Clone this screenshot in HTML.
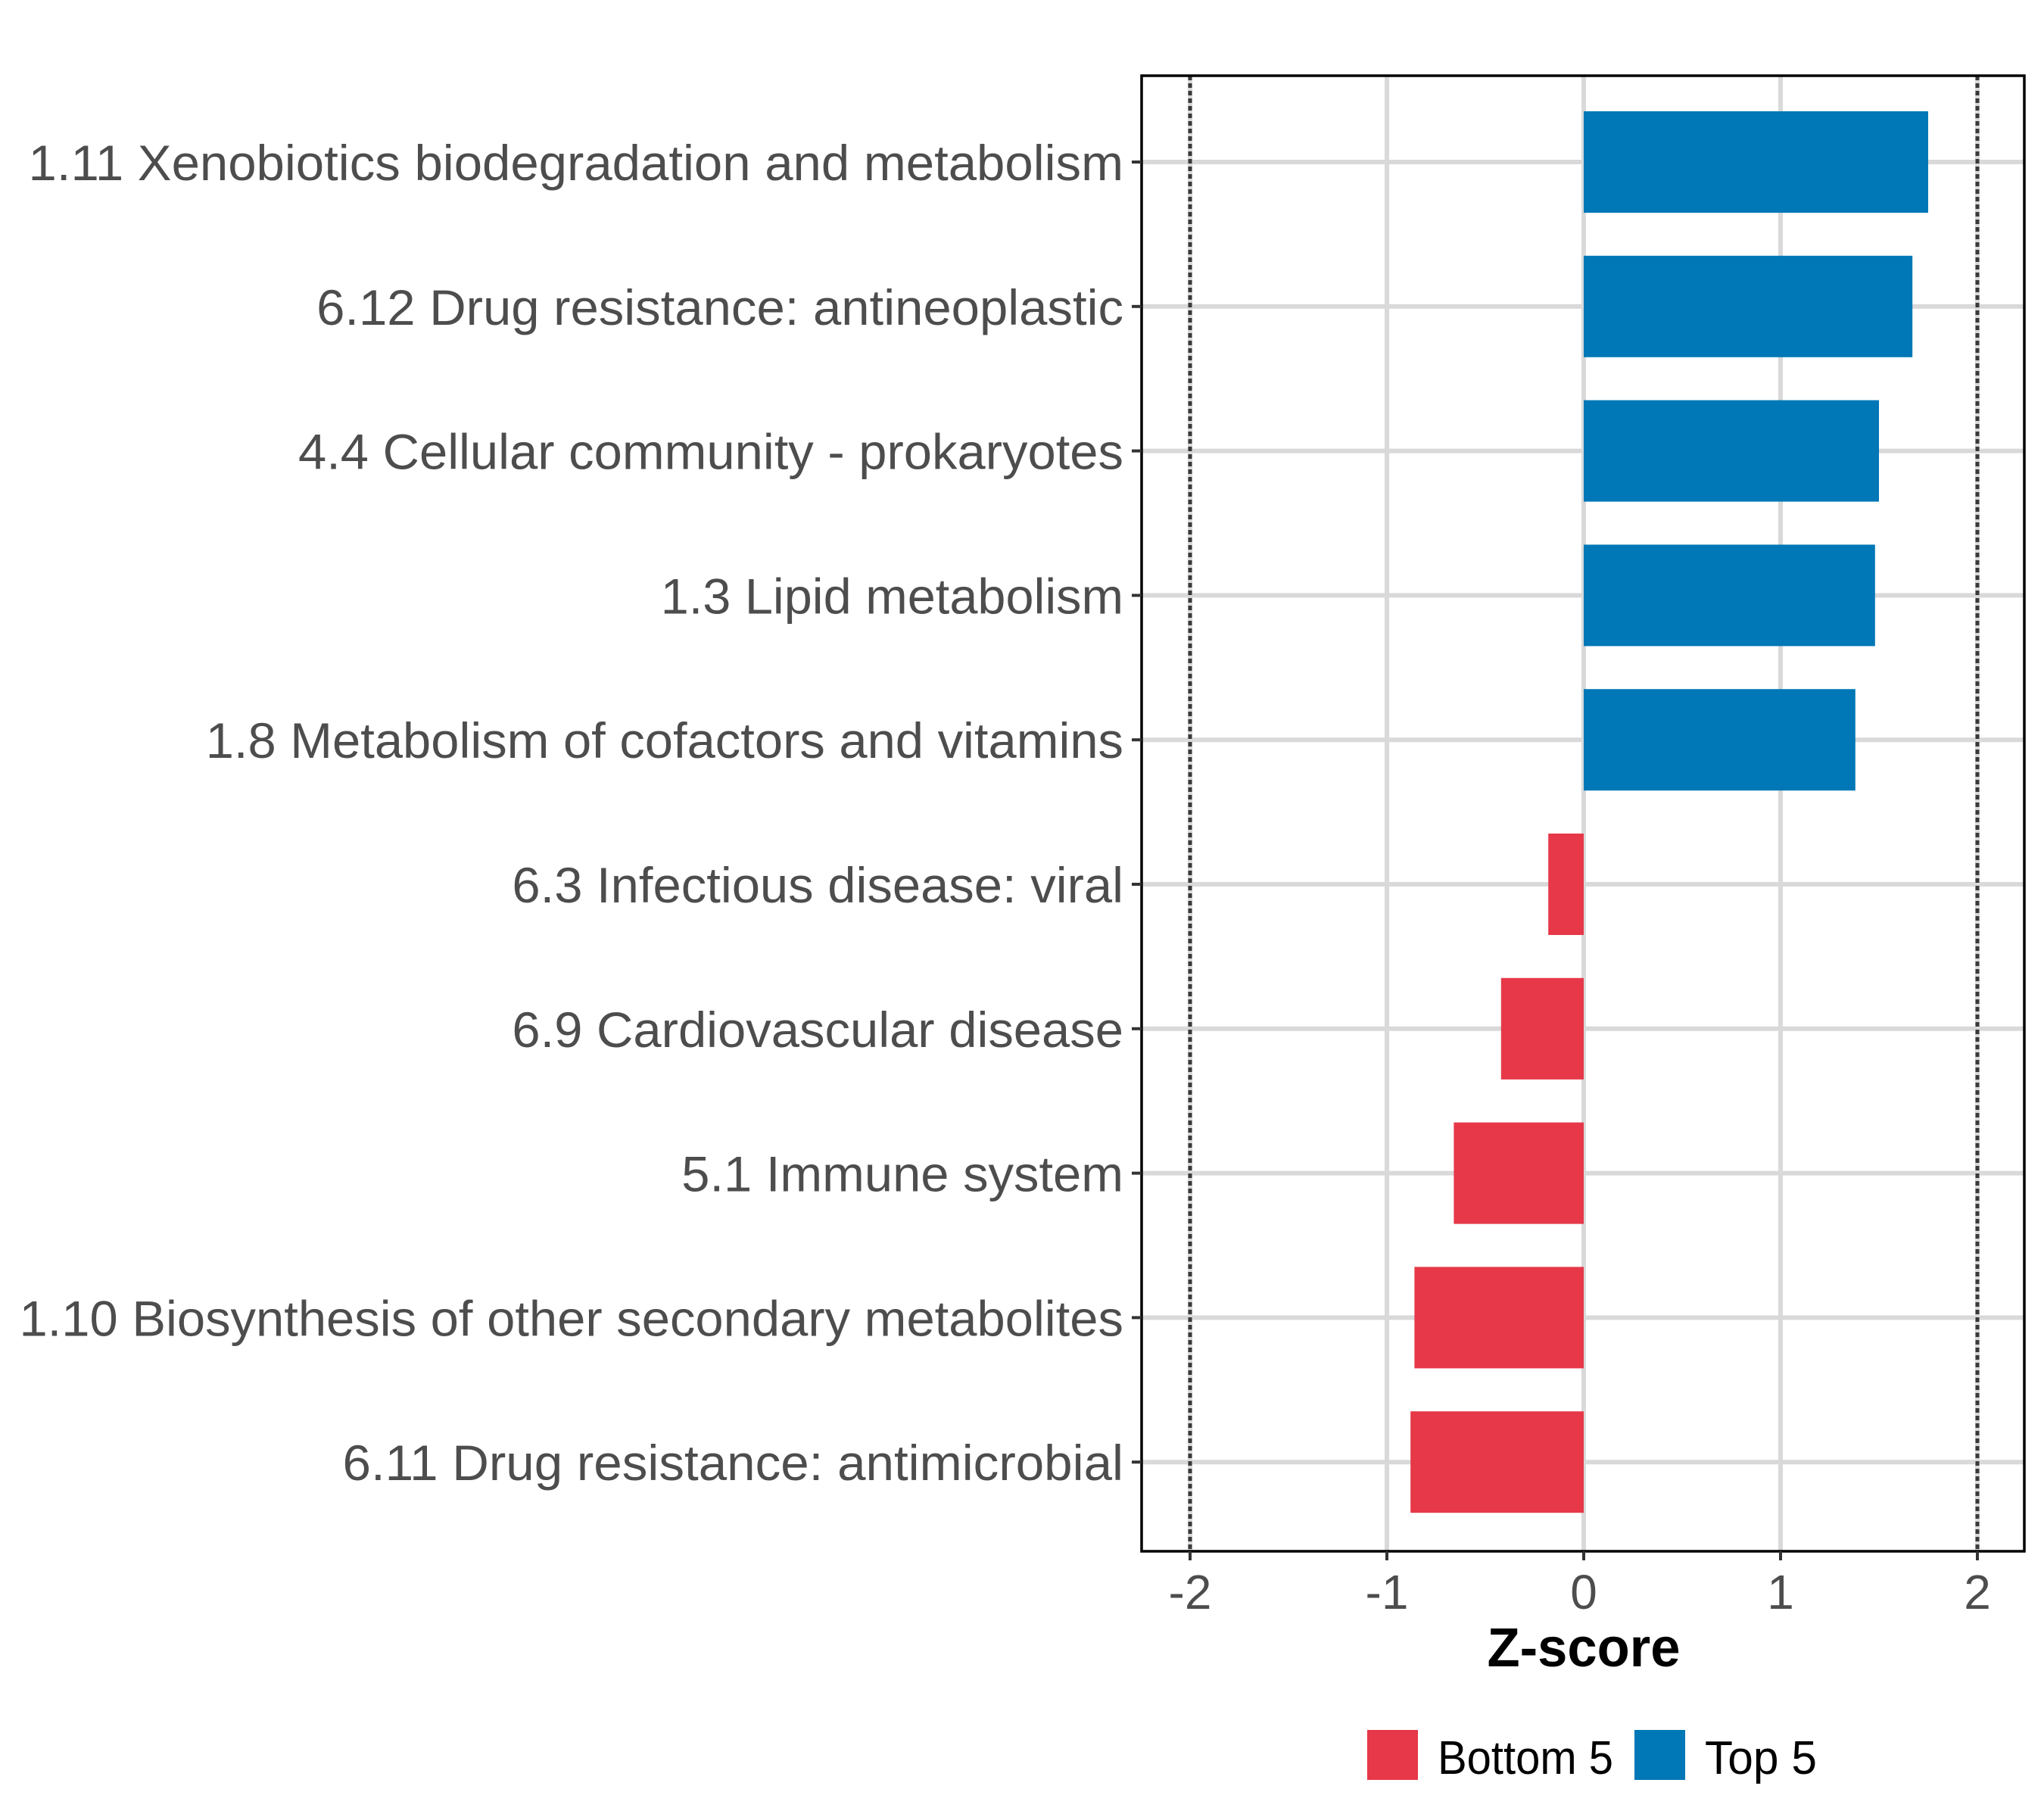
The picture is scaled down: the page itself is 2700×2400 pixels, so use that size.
<!DOCTYPE html>
<html><head><meta charset="utf-8"><style>
html,body{margin:0;padding:0;background:#fff;}
svg{display:block;font-family:"Liberation Sans",Arial,sans-serif;}
</style></head><body>
<svg id="chart" width="2700" height="2400" viewBox="0 0 2700 2400" xmlns="http://www.w3.org/2000/svg">
<rect x="0" y="0" width="2700" height="2400" fill="#fff"/>
<g id="grid"></g>
<g id="bars"></g>
<g id="ref"></g>
<rect x="1508" y="100" width="1166" height="1949" fill="none" stroke="#000" stroke-width="3.5"/>
<g id="yaxis"></g>
<g id="xaxis"></g>
<text x="2092" y="2201" text-anchor="middle" font-size="72" font-weight="bold" fill="#000" textLength="255" lengthAdjust="spacingAndGlyphs">Z-score</text>
<g>
<rect x="1806" y="2285" width="67" height="66" fill="#E63848"/>
<text x="1899" y="2343" font-size="62" fill="#000" textLength="232" lengthAdjust="spacingAndGlyphs">Bottom 5</text>
<rect x="2159" y="2285" width="67" height="66" fill="#0077B6"/>
<text x="2252" y="2343" font-size="62" fill="#000" textLength="148" lengthAdjust="spacingAndGlyphs">Top 5</text>
</g>
</svg>
<script>
const categories = ["1.11 Xenobiotics biodegradation and metabolism","6.12 Drug resistance: antineoplastic","4.4 Cellular community - prokaryotes","1.3 Lipid metabolism","1.8 Metabolism of cofactors and vitamins","6.3 Infectious disease: viral","6.9 Cardiovascular disease","5.1 Immune system","1.10 Biosynthesis of other secondary metabolites","6.11 Drug resistance: antimicrobial"];
const values = [1.75, 1.67, 1.50, 1.48, 1.38, -0.18, -0.42, -0.66, -0.86, -0.88];
const groups = ["Top 5","Top 5","Top 5","Top 5","Top 5","Bottom 5","Bottom 5","Bottom 5","Bottom 5","Bottom 5"];
const xTicks = [-2, -1, 0, 1, 2];
const refLines = [-2, 2];
const labelLefts = [22,243,229,507,158,393,393,523,15,263];

const NS = "http://www.w3.org/2000/svg";
const x0 = 2092, unit = 260;
function xs(v){ return x0 + v*unit; }
function ys(i){ return 214 + i*190.8; }
const barH = 134;
const colors = {"Top 5":"#0077B6","Bottom 5":"#E63848"};
function mk(tag, attrs, parent){ const e=document.createElementNS(NS,tag); for(const k in attrs) e.setAttribute(k,attrs[k]); parent.appendChild(e); return e; }
const grid=document.getElementById('grid'), bars=document.getElementById('bars'), ref=document.getElementById('ref'), yax=document.getElementById('yaxis'), xax=document.getElementById('xaxis');

xTicks.forEach(t=>{
  const l=mk('line',{x1:xs(t),x2:xs(t),y1:100,y2:2049,stroke:'#d9d9d9','stroke-width':6},grid);
  
  
  const tk=mk('line',{x1:xs(t),x2:xs(t),y1:2049,y2:2061,stroke:'#333','stroke-width':4},xax);
  
  
  const tx=mk('text',{x:xs(t),y:2125,'text-anchor':'middle','font-size':64,fill:'#4d4d4d'},xax);
  tx.textContent = t;
  
  
});
categories.forEach((c,i)=>{
  const y=ys(i);
  const g=mk('line',{x1:1508,x2:2674,y1:y,y2:y,stroke:'#d9d9d9','stroke-width':6},grid);
  
  
  const v=values[i];
  const r=mk('rect',{x:Math.min(xs(0),xs(v)),y:y-barH/2,width:Math.abs(xs(v)-xs(0)),height:barH,fill:colors[groups[i]]},bars);
  
  
  const tk=mk('line',{x1:1495,x2:1508,y1:y,y2:y,stroke:'#333','stroke-width':4},yax);
  
  
  const w=(862-labelLefts[i])*1.722;
  const t=mk('text',{x:1484,y:y+24,'text-anchor':'end','font-size':66,fill:'#4d4d4d',textLength:w,lengthAdjust:'spacingAndGlyphs'},yax);
  t.textContent=c;
  
  
});
refLines.forEach(v=>{
  const l=mk('line',{x1:xs(v),x2:xs(v),y1:100,y2:2049,stroke:'#3a3a3a','stroke-width':5,'stroke-dasharray':'6,4'},ref);
  
  
});
</script>
</body></html>
